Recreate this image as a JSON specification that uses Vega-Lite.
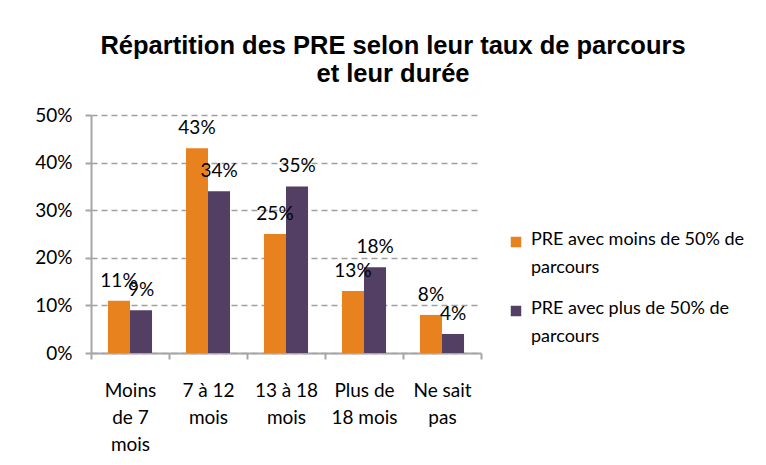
{
  "$schema": "https://vega.github.io/schema/vega-lite/v6.json",
  "autosize": {"type": "none"},
  "width": 390,
  "height": 238,
  "padding": {"left": 91, "top": 115, "right": 285, "bottom": 112},
  "background": "white",
  "title": {
    "text": ["Répartition des PRE selon leur taux de parcours", "et leur durée"],
    "anchor": "middle",
    "frame": "group",
    "dx": 107,
    "offset": 19,
    "font": "Liberation Sans",
    "fontSize": 25.5,
    "fontWeight": "bold",
    "lineHeight": 28,
    "color": "#000000"
  },
  "data": {
    "values": [
      {"duree": "Moins de 7 mois", "serie": "PRE avec moins de 50% de parcours", "valeur": 0.11},
      {"duree": "Moins de 7 mois", "serie": "PRE avec plus de 50% de parcours", "valeur": 0.09},
      {"duree": "7 à 12 mois", "serie": "PRE avec moins de 50% de parcours", "valeur": 0.43},
      {"duree": "7 à 12 mois", "serie": "PRE avec plus de 50% de parcours", "valeur": 0.34},
      {"duree": "13 à 18 mois", "serie": "PRE avec moins de 50% de parcours", "valeur": 0.25},
      {"duree": "13 à 18 mois", "serie": "PRE avec plus de 50% de parcours", "valeur": 0.35},
      {"duree": "Plus de 18 mois", "serie": "PRE avec moins de 50% de parcours", "valeur": 0.13},
      {"duree": "Plus de 18 mois", "serie": "PRE avec plus de 50% de parcours", "valeur": 0.18},
      {"duree": "Ne sait pas", "serie": "PRE avec moins de 50% de parcours", "valeur": 0.08},
      {"duree": "Ne sait pas", "serie": "PRE avec plus de 50% de parcours", "valeur": 0.04}
    ]
  },
  "encoding": {
    "x": {
      "field": "duree",
      "type": "nominal",
      "sort": null,
      "scale": {"paddingInner": 0, "paddingOuter": 0},
      "axis": {
        "title": null,
        "labelAngle": 0,
        "domainColor": "#A6A6A6",
        "domainWidth": 2,
        "tickColor": "#A6A6A6",
        "tickWidth": 2,
        "tickSize": 6,
        "tickBand": "extent",
        "labelPadding": 22,
        "labelFont": "Lato",
        "labelFontSize": 19,
        "labelColor": "#000000",
        "labelLineHeight": 27,
        "labelBaseline": "top",
        "labelOverlap": false,
        "labelExpr": "datum.value == 'Moins de 7 mois' ? ['Moins', 'de 7', 'mois'] : datum.value == '7 à 12 mois' ? ['7 à 12', 'mois'] : datum.value == '13 à 18 mois' ? ['13 à 18', 'mois'] : datum.value == 'Plus de 18 mois' ? ['Plus de', '18 mois'] : datum.value == 'Ne sait pas' ? ['Ne sait', 'pas'] : ''"
      }
    },
    "xOffset": {
      "field": "serie",
      "type": "nominal",
      "scale": {"paddingInner": 0, "paddingOuter": 0.77}
    },
    "y": {
      "field": "valeur",
      "type": "quantitative",
      "scale": {"domain": [0, 0.5], "nice": false},
      "axis": {
        "title": null,
        "format": ".0%",
        "values": [0, 0.1, 0.2, 0.3, 0.4, 0.5],
        "labelOverlap": false,
        "domainColor": "#A6A6A6",
        "domainWidth": 2,
        "tickColor": "#A6A6A6",
        "tickWidth": 2,
        "tickSize": 6,
        "labelPadding": 13,
        "labelFont": "Lato",
        "labelFontSize": 19,
        "labelColor": "#000000",
        "gridColor": "#A0A0A0",
        "gridWidth": 1.5,
        "gridDash": [6, 4]
      }
    }
  },
  "layer": [
    {
      "mark": {"type": "bar"},
      "encoding": {
        "color": {
          "field": "serie",
          "type": "nominal",
          "scale": {"range": ["#E8821E", "#533F63"]},
          "legend": {
            "title": null,
            "orient": "none",
            "legendX": 416,
            "legendY": 118,
            "symbolType": "square",
            "symbolSize": 110,
            "symbolStrokeWidth": 0,
            "labelFont": "Lato",
            "labelFontSize": 18,
            "labelColor": "#000000",
            "labelBaseline": "top",
            "labelLimit": 300,
            "labelOffset": 6,
            "rowPadding": 23,
            "labelExpr": "datum.value == 'PRE avec moins de 50% de parcours' ? ['PRE avec moins de 50% de', 'parcours'] : ['PRE avec plus de 50% de', 'parcours']",
            "encode": {
              "labels": {"update": {"lineHeight": {"value": 28}, "dy": {"value": -11}}}
            }
          }
        }
      }
    },
    {
      "mark": {"type": "text", "baseline": "alphabetic", "dy": -14, "font": "Lato", "fontSize": 19, "color": "#000000"},
      "encoding": {
        "text": {"field": "valeur", "type": "quantitative", "format": ".0%"}
      }
    }
  ],
  "config": {
    "view": {"stroke": null}
  }
}
